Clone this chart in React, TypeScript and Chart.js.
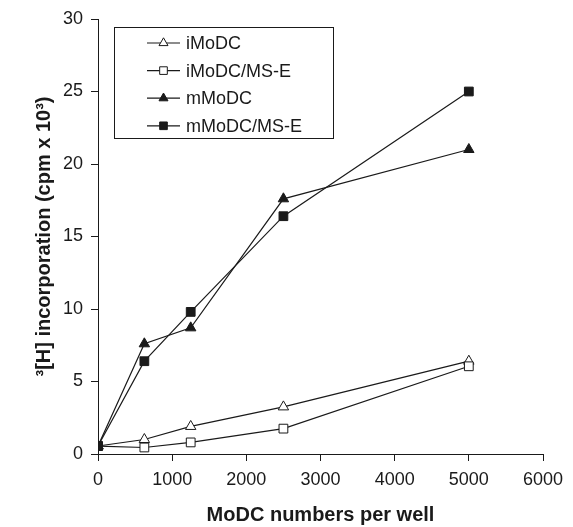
import React, { useEffect, useRef } from 'react';
import { Chart, registerables } from 'chart.js';

Chart.register(...registerables);

const cellNumbers = [0, 625, 1250, 2500, 5000];
const iMoDC = [0.55, 1.0, 1.9, 3.25, 6.4];
const iMoDC_MSE = [0.55, 0.45, 0.8, 1.75, 6.05];
const mMoDC = [0.55, 7.6, 8.7, 17.6, 21.0];
const mMoDC_MSE = [0.55, 6.4, 9.8, 16.4, 25.0];
const seriesLabels = ['iMoDC', 'iMoDC/MS-E', 'mMoDC', 'mMoDC/MS-E'];
const xTitle = 'MoDC numbers per well';
const yTitle = '\u00B3[H] incorporation (cpm x 10\u00B3)';

const FONT = '"Liberation Sans", Arial, Helvetica, sans-serif';
const INK = '#1a1a1a';

const styles = [
  { pointStyle: 'triangle', fill: '#ffffff', radius: 6 },
  { pointStyle: 'rect', fill: '#ffffff', radius: 6.2 },
  { pointStyle: 'triangle', fill: INK, radius: 6 },
  { pointStyle: 'rect', fill: INK, radius: 6.2 },
];

const seriesValues = [iMoDC, iMoDC_MSE, mMoDC, mMoDC_MSE];

function marker(ctx: CanvasRenderingContext2D, style: string, r: number, x: number, y: number) {
  ctx.beginPath();
  if (style === 'triangle') {
    const w = r * Math.sin((2 * Math.PI) / 3);
    ctx.moveTo(x, y - r);
    ctx.lineTo(x + w, y + r / 2);
    ctx.lineTo(x - w, y + r / 2);
    ctx.closePath();
  } else {
    const s = r * Math.SQRT1_2;
    ctx.rect(x - s, y - s, 2 * s, 2 * s);
  }
  ctx.fill();
  ctx.stroke();
}

const boxLegend = {
  id: 'boxLegend',
  afterDraw(chart: any) {
    const { ctx, chartArea } = chart;
    const left = chartArea.left + 16;
    const top = chartArea.top + 8;
    const w = 219;
    const h = 111;
    ctx.save();
    ctx.fillStyle = '#ffffff';
    ctx.fillRect(left, top, w, h);
    ctx.strokeStyle = INK;
    ctx.lineWidth = 1;
    ctx.strokeRect(left + 0.5, top + 0.5, w, h);
    ctx.font = `18px ${FONT}`;
    ctx.textBaseline = 'middle';
    ctx.textAlign = 'left';
    seriesLabels.forEach((label, i) => {
      const y = top + 16 + i * 27.6;
      const x0 = left + 33;
      const x1 = left + 66;
      ctx.strokeStyle = INK;
      ctx.lineWidth = 1.2;
      ctx.beginPath();
      ctx.moveTo(x0, y);
      ctx.lineTo(x1, y);
      ctx.stroke();
      const st = styles[i];
      ctx.fillStyle = st.fill;
      ctx.lineWidth = 1;
      marker(ctx, st.pointStyle, st.radius - 0.8, (x0 + x1) / 2, y);
      ctx.fillStyle = INK;
      ctx.fillText(label, left + 72, y + 1);
    });
    ctx.restore();
  },
};

export default function App() {
  const ref = useRef<HTMLCanvasElement>(null);
  useEffect(() => {
    if (!ref.current) return;
    const chart = new Chart(ref.current, {
      type: 'line',
      data: {
        datasets: seriesValues.map((vals, i) => ({
          label: seriesLabels[i],
          data: vals.map((v, j) => ({ x: cellNumbers[j], y: v })),
          order: 3 - i,
          borderColor: INK,
          borderWidth: 1.2,
          backgroundColor: styles[i].fill,
          pointBackgroundColor: styles[i].fill,
          pointBorderColor: INK,
          pointBorderWidth: 1,
          pointStyle: styles[i].pointStyle as any,
          pointRadius: styles[i].radius,
          tension: 0,
          fill: false,
        })),
      },
      options: {
        animation: false,
        responsive: true,
        maintainAspectRatio: false,
        layout: { padding: { top: 19, right: 30, left: 0, bottom: 0 } },
        plugins: { legend: { display: false }, tooltip: { enabled: false } },
        scales: {
          x: {
            type: 'linear',
            min: 0,
            max: 6000,
            afterFit: (s: any) => { s.height = 73; },
            ticks: {
              stepSize: 1000,
              color: INK,
              font: { family: FONT, size: 18 },
              padding: 8,
              maxRotation: 0,
              callback: (v: any) => String(v),
            },
            grid: { drawOnChartArea: false, drawTicks: true, tickLength: 7, color: INK, lineWidth: 1 },
            border: { display: true, color: INK, width: 1 },
            title: { display: true, text: xTitle, color: INK, font: { family: FONT, size: 20, weight: 'bold' }, padding: { top: 0, bottom: 0 } },
          },
          y: {
            min: 0,
            max: 30,
            afterFit: (s: any) => { s.width = 98; },
            ticks: { stepSize: 5, color: INK, font: { family: FONT, size: 18 }, padding: 8, callback: (v: any) => String(v) },
            grid: { drawOnChartArea: false, drawTicks: true, tickLength: 7, color: INK, lineWidth: 1 },
            border: { display: true, color: INK, width: 1 },
            title: { display: true, text: yTitle, color: INK, font: { family: FONT, size: 20, weight: 'bold' }, padding: { top: 32, bottom: 0 } },
          },
        },
      },
      plugins: [boxLegend],
    });
    return () => chart.destroy();
  }, []);
  return (
    <div style={{ position: 'fixed', left: 0, top: 0, width: 573, height: 527, background: '#fff' }}>
      <canvas ref={ref} />
    </div>
  );
}
